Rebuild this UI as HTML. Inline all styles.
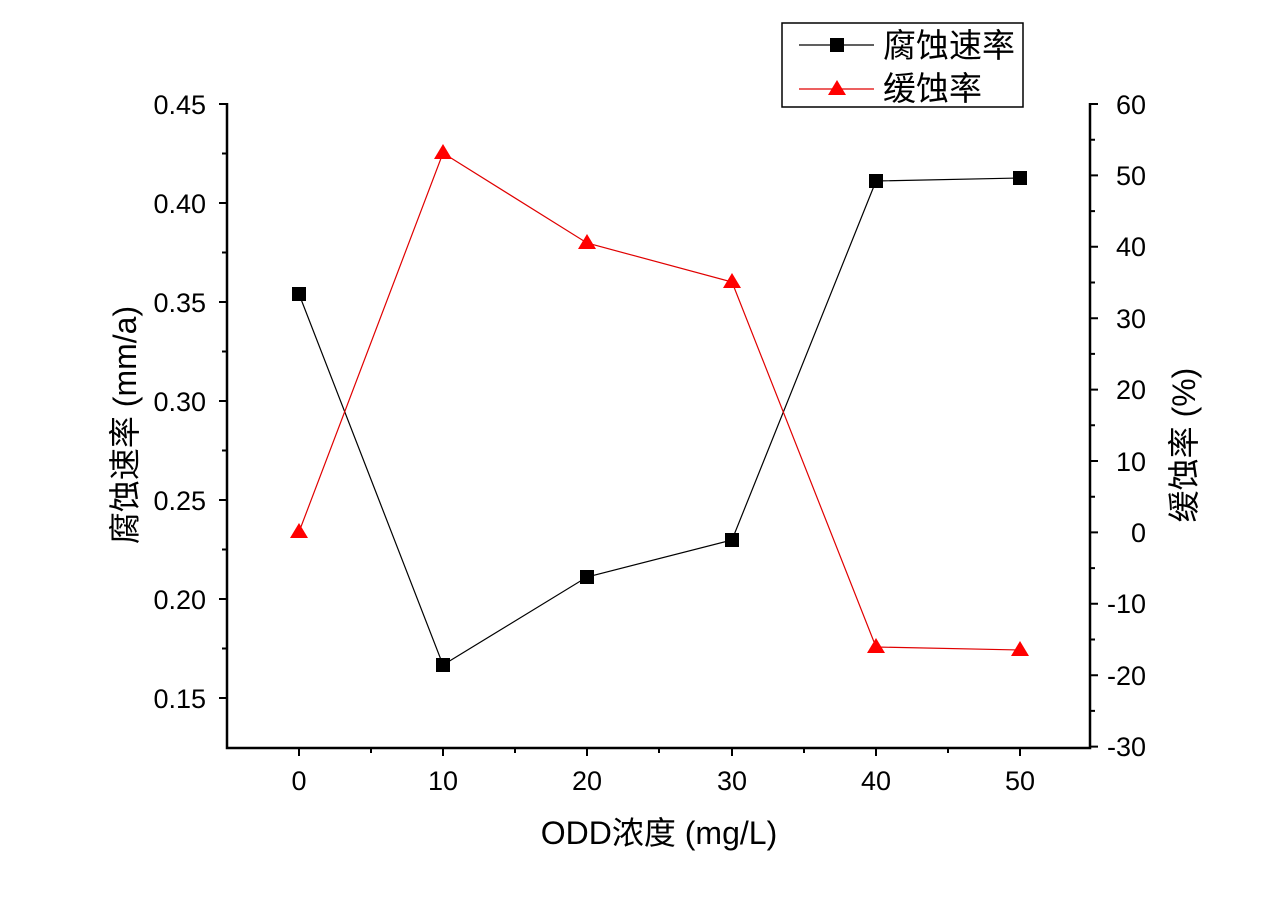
<!DOCTYPE html><html><head><meta charset="utf-8"><style>body{margin:0;background:#fff}</style></head><body>
<svg width="1269" height="897" viewBox="0 0 1269 897" xmlns="http://www.w3.org/2000/svg" font-family="Liberation Sans, Noto Sans CJK SC, sans-serif">
<g stroke="#000" stroke-width="2.5" fill="none">
<path d="M227,103V748H1090V103"/>
</g>
<g stroke="#000" stroke-width="2">
<path d="M219,104H227M219,203H227M219,302H227M219,401H227M219,500H227M219,599H227M219,698H227"/>
<path d="M222,153.5H227M222,252.5H227M222,351.5H227M222,450.5H227M222,549.5H227M222,648.5H227"/>
<path d="M1090,104H1098M1090,175.4H1098M1090,246.8H1098M1090,318.2H1098M1090,389.6H1098M1090,461H1098M1090,532.4H1098M1090,603.8H1098M1090,675.2H1098M1090,746.6H1098"/>
<path d="M1090,139.7H1095M1090,211.1H1095M1090,282.5H1095M1090,353.9H1095M1090,425.3H1095M1090,496.7H1095M1090,568.1H1095M1090,639.5H1095M1090,710.9H1095"/>
<path d="M299,748V756M443,748V756M587,748V756M732,748V756M876,748V756M1020,748V756"/>
<path d="M371,748V753M515,748V753M659,748V753M804,748V753M948,748V753"/>
</g>
<g font-size="27" fill="#000" text-anchor="end">
<text x="206" y="114">0.45</text><text x="206" y="213">0.40</text><text x="206" y="312">0.35</text><text x="206" y="411">0.30</text><text x="206" y="510">0.25</text><text x="206" y="609">0.20</text><text x="206" y="708">0.15</text>
</g>
<g font-size="27" fill="#000" text-anchor="end">
<text x="1146" y="114">60</text><text x="1146" y="185">50</text><text x="1146" y="256">40</text><text x="1146" y="328">30</text><text x="1146" y="399">20</text><text x="1146" y="471">10</text><text x="1146" y="542">0</text><text x="1146" y="613">-10</text><text x="1146" y="685">-20</text><text x="1146" y="756">-30</text>
</g>
<g font-size="27" fill="#000" text-anchor="middle">
<text x="299" y="790">0</text><text x="443" y="790">10</text><text x="587" y="790">20</text><text x="732" y="790">30</text><text x="876" y="790">40</text><text x="1020" y="790">50</text>
</g>
<text x="659" y="844" font-size="32" text-anchor="middle">ODD浓度 (mg/L)</text>
<text transform="translate(136,425) rotate(-90)" font-size="32" text-anchor="middle">腐蚀速率 (mm/a)</text>
<text transform="translate(1195,445) rotate(-90)" font-size="32" text-anchor="middle">缓蚀率 (%)</text>
<polyline points="299,294 443,665 587,577 732,540 876,181 1020,178" fill="none" stroke="#000" stroke-width="1.2"/>
<g fill="#000">
<rect x="292" y="287" width="14" height="14"/><rect x="436" y="658" width="14" height="14"/><rect x="580" y="570" width="14" height="14"/><rect x="725" y="533" width="14" height="14"/><rect x="869" y="174" width="14" height="14"/><rect x="1013" y="171" width="14" height="14"/>
</g>
<polyline points="299,532 443,153 587,243 732,282 876,647 1020,650" fill="none" stroke="#e00000" stroke-width="1.2"/>
<g fill="#ff0000">
<path d="M299,523l9,15h-18z"/><path d="M443,144l9,15h-18z"/><path d="M587,234l9,15h-18z"/><path d="M732,273l9,15h-18z"/><path d="M876,638l9,15h-18z"/><path d="M1020,641l9,15h-18z"/>
</g>
<rect x="782" y="23" width="241" height="84" fill="#fff" stroke="#000" stroke-width="1.5"/>
<line x1="799" y1="45" x2="874" y2="45" stroke="#000" stroke-width="1.2"/>
<rect x="830" y="38" width="14" height="14" fill="#000"/>
<line x1="799" y1="89" x2="874" y2="89" stroke="#e00000" stroke-width="1.2"/>
<path d="M837,80l9,15h-18z" fill="#ff0000"/>
<text x="883" y="57" font-size="33">腐蚀速率</text>
<text x="883" y="100" font-size="33">缓蚀率</text>
</svg>
</body></html>
